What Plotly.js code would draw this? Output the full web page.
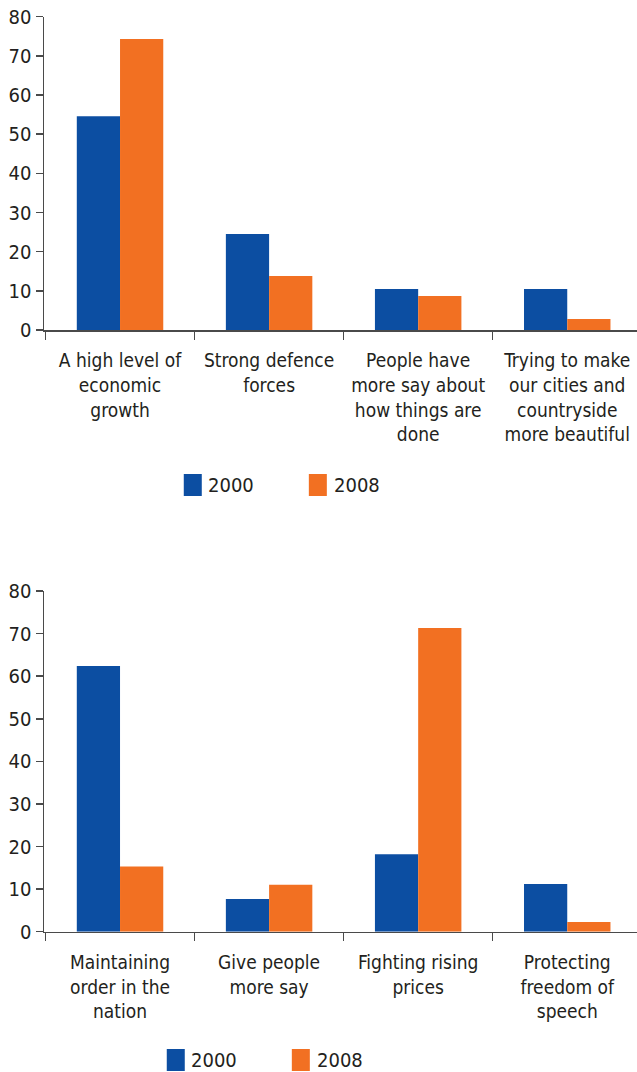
<!DOCTYPE html>
<html>
<head>
<meta charset="utf-8">
<script src="https://cdn.plot.ly/plotly-3.0.1.min.js"></script>
<style>html,body{margin:0;padding:0;background:#fff}#chart{width:637px;height:1072px}</style>
</head>
<body>
<div id="chart"></div>
<script>
const categoriesTop = [
  "A high level of<br>economic<br>growth",
  "Strong defence<br>forces",
  "People have<br>more say about<br>how things are<br>done",
  "Trying to make<br>our cities and<br>countryside<br>more beautiful"
];
const top2000 = [54.6, 24.5, 10.5, 10.5];
const top2008 = [74.3, 13.8, 8.7, 2.8];

const categoriesBottom = [
  "Maintaining<br>order in the<br>nation",
  "Give people<br>more say",
  "Fighting rising<br>prices",
  "Protecting<br>freedom of<br>speech"
];
const bottom2000 = [62.4, 7.7, 18.2, 11.2];
const bottom2008 = [15.3, 11.0, 71.3, 2.3];

const seriesNames = ["2000", "2008"];
const yTicks = [0, 10, 20, 30, 40, 50, 60, 70, 80];

const BLUE = "#0c4ea2";
const ORANGE = "#f27022";
const TEXT = "#231f20";
const AXIS = "#4a4a4a";
const FONT = "'DejaVu Sans Condensed', Lato, sans-serif";
const W = 637, H = 1072, ML = 44.3;

const traces = [
  {type: "bar", x: categoriesTop, y: top2000, name: seriesNames[0], marker: {color: BLUE}, xaxis: "x", yaxis: "y", showlegend: false},
  {type: "bar", x: categoriesTop, y: top2008, name: seriesNames[1], marker: {color: ORANGE}, xaxis: "x", yaxis: "y", showlegend: false},
  {type: "bar", x: categoriesBottom, y: bottom2000, name: seriesNames[0], marker: {color: BLUE}, xaxis: "x2", yaxis: "y2", showlegend: false},
  {type: "bar", x: categoriesBottom, y: bottom2008, name: seriesNames[1], marker: {color: ORANGE}, xaxis: "x2", yaxis: "y2", showlegend: false}
];

function py(pix) { return 1 - pix / H; }
function px(pix) { return (pix - ML) / (W - ML); }

const xCommon = {
  type: "category",
  range: [-0.51, 3.468],
  showline: true, linecolor: AXIS, linewidth: 1.5,
  ticks: "outside", tickson: "boundaries", ticklen: 8, tickcolor: AXIS, tickwidth: 1.5,
  tickfont: {family: FONT, size: 19, color: TEXT},
  ticklabelstandoff: 13,
  tickangle: 0,
  showgrid: false, zeroline: false,
  fixedrange: true
};
const yCommon = {
  range: [0, 80], tickvals: yTicks,
  showline: true, linecolor: AXIS, linewidth: 1.5,
  ticks: "outside", ticklen: 7, tickcolor: AXIS, tickwidth: 1.5,
  tickfont: {family: FONT, size: 20, color: TEXT},
  showgrid: false, zeroline: false,
  fixedrange: true
};

const layout = {
  width: W, height: H,
  margin: {l: ML, r: 0, t: 0, b: 0},
  paper_bgcolor: "#fff", plot_bgcolor: "#fff",
  barmode: "group", bargap: 0.42, bargroupgap: 0,
  showlegend: false,
  xaxis: Object.assign({}, xCommon, {anchor: "y", domain: [0, 1]}),
  yaxis: Object.assign({}, yCommon, {anchor: "x", domain: [py(330), py(16.7)]}),
  xaxis2: Object.assign({}, xCommon, {anchor: "y2", domain: [0, 1]}),
  yaxis2: Object.assign({}, yCommon, {anchor: "x2", domain: [py(931.7), py(591)]}),
  shapes: [], annotations: []
};

function addLegend(yTop, yBot, items) {
  items.forEach(it => {
    layout.shapes.push({type: "rect", xref: "paper", yref: "paper",
      x0: px(it.x0), x1: px(it.x0 + 18), y0: py(yBot), y1: py(yTop),
      fillcolor: it.color, line: {width: 0}});
    layout.annotations.push({xref: "paper", yref: "paper", x: px(it.tx), y: py((yTop + yBot) / 2),
      xanchor: "left", yanchor: "middle", showarrow: false, text: it.name,
      font: {family: FONT, size: 20, color: TEXT}});
  });
}
addLegend(474, 496, [
  {x0: 184, tx: 206, color: BLUE, name: seriesNames[0]},
  {x0: 309, tx: 332, color: ORANGE, name: seriesNames[1]}
]);
addLegend(1049, 1071, [
  {x0: 167, tx: 189, color: BLUE, name: seriesNames[0]},
  {x0: 292, tx: 315, color: ORANGE, name: seriesNames[1]}
]);

Plotly.newPlot("chart", traces, layout, {staticPlot: true, displayModeBar: false});
</script>
</body>
</html>
